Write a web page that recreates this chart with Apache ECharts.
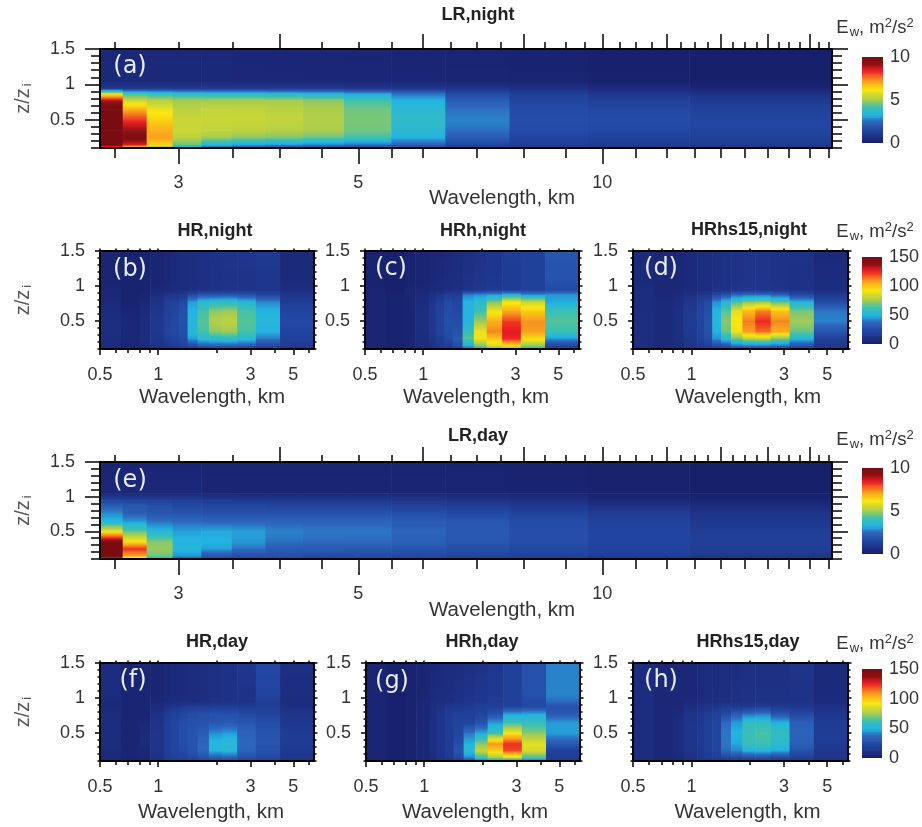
<!DOCTYPE html>
<html><head><meta charset="utf-8">
<style>html,body{margin:0;padding:0;background:#fff}#c{width:922px;height:827px;filter:blur(0.45px)}</style>
<script src="https://cdn.jsdelivr.net/npm/echarts@6/dist/echarts.min.js"></script>
</head><body><div id="c"></div>
<script>
// ---------- data ----------
const zLevels = [0.1,0.15,0.25,0.35,0.5,0.65,0.78,0.88,0.95,1.05,1.5];
const lrEdges = [2.4,2.56,2.74,2.95,3.2,3.49,3.84,4.27,4.8,5.49,6.4,7.68,9.6,12.8,19.2];
const hrEdges = [0.5,0.64,0.8,0.91,1.07,1.16,1.28,1.42,1.6,1.83,2.13,2.56,3.2,4.27,6.4];
const lrNight = [
[6.5,10.5,10.5,10.5,10.5,10.5,8.8,5.5,1,.45,.4],[6,8.5,9.8,9.2,8.2,7,5.5,4,1,.45,.4],[4,6.5,7.2,7,6.5,6,5.2,3.8,1,.45,.4],
[2.5,4.5,5.3,5.5,5.5,5.3,5,3.6,1,.45,.4],[2,3.5,5,5.4,5.5,5.4,5,3.5,1,.45,.4],[1.8,3.2,4.8,5.3,5.5,5.4,5,3.5,1,.4,.38],
[1.7,3,4.7,5.2,5.4,5.3,5,3.4,1,.4,.36],[1.6,2.8,4.5,5.1,5.2,5.1,4.8,3.3,1,.4,.34],[1.5,2.6,4.2,4.6,4.7,4.6,4.2,3,.9,.4,.32],
[1.3,2.3,3.3,3.6,3.8,3.6,3.3,2.5,.9,.38,.3],[1,1.5,2.2,2.6,2.8,2.6,2.2,1.6,.8,.35,.28],[.9,1.2,1.5,1.7,1.8,1.7,1.5,1.2,.7,.3,.25],
[.8,1.1,1.4,1.6,1.7,1.6,1.3,.9,.5,.22,.18],[.8,1.1,1.3,1.5,1.5,1.4,1.1,.7,.35,.16,.14]];
const lrDay = [
[7,10.5,10.5,9.8,6,3.4,2.8,2.2,1.5,.4,.35],[5.5,7,8.3,6.3,4.5,3,2.2,2,1.4,.4,.35],[3.5,4.6,4.9,4.8,3.5,2.6,2,1.8,1.3,.4,.35],
[2.2,3,3.4,3.4,3.1,2.5,1.9,1.6,1.2,.4,.35],[1.6,2,3.1,3.3,3.2,2.4,1.8,1.5,1.1,.35,.3],[1.4,1.8,2.6,3,3.1,2.4,1.8,1.5,1,.35,.3],
[1.4,1.8,2.2,2.6,2.8,2.4,1.8,1.4,1,.35,.3],[1.3,1.7,2.2,2.5,2.7,2.4,1.8,1.4,1,.35,.3],[1.3,1.7,2.1,2.5,2.7,2.4,1.8,1.4,1,.35,.3],
[1.2,1.6,2,2.3,2.4,2.2,1.7,1.3,.9,.35,.3],[1.1,1.5,1.8,2,2.1,2,1.6,1.2,.8,.32,.28],[1,1.4,1.6,1.8,1.8,1.7,1.4,1,.7,.28,.25],
[.9,1.2,1.4,1.5,1.5,1.4,1.1,.7,.45,.22,.2],[.8,1,1.2,1.3,1.2,1,.8,.5,.32,.16,.15]];
const hrNight = [
[6,8,9,9,9,8,7,6,6,5,5],[4,5,6,6,6,5,4,4,4,4,4],[6,7,8,8,8,7,6,5,4,4,4],[10,12,14,15,15,14,12,9,6,5,5],
[12,15,19,21,21,20,18,12,7,6,6],[13,18,22,24,24,23,20,13,8,7,7],[13,20,25,27,28,27,24,15,9,8,8],
[14,24,46,52,52,50,46,24,10,9,9],[15,32,54,64,66,64,54,30,11,10,10],[16,34,56,72,78,72,56,30,12,11,12],
[16,34,58,74,80,74,57,30,13,12,13],[15,32,54,64,66,64,52,28,13,12,14],[14,24,40,50,52,50,42,22,13,14,16],[12,16,20,22,24,22,18,13,9,7,7]];
const hrhNight = [
[5,5,5,5,5,5,5,5,5,4,4],[4,4,4,4,4,4,4,4,3,3,3],[5,5,5,5,5,5,5,5,5,4,4],[7,8,8,9,9,9,8,7,6,5,5],
[10,11,13,14,14,14,13,10,7,6,6],[12,14,18,20,21,20,19,13,8,7,6],[14,18,24,26,27,26,25,18,9,8,7],
[18,26,32,28,26,24,22,18,10,9,8],[34,48,66,60,50,50,50,42,13,11,10],[45,70,90,90,74,62,55,44,15,13,12],
[60,85,100,112,105,90,70,46,17,15,14],[60,95,125,128,122,105,90,52,18,17,18],[52,72,95,108,110,98,82,44,20,20,20],[18,22,45,62,66,62,48,45,24,28,30]];
const hrs15Night = [
[8,9,9,9,9,9,8,8,8,7,7],[6,7,7,7,7,7,7,6,6,6,6],[7,8,10,10,10,10,9,7,6,6,6],[10,13,15,16,16,16,14,10,7,7,7],
[12,16,20,22,22,22,20,13,8,8,8],[14,20,25,28,28,27,25,15,9,9,9],[16,25,44,50,52,50,44,22,11,10,10],
[18,30,55,68,72,66,52,28,12,11,11],[20,38,68,90,94,88,62,36,13,12,12],[22,40,78,108,113,103,70,38,14,13,13],
[22,40,80,115,125,112,72,38,14,13,13],[20,38,70,105,112,100,64,34,13,12,12],[18,28,52,68,75,70,50,24,12,11,12],[12,15,20,30,42,40,25,15,9,8,7]];
const hrDay = [
[6,7,7,8,8,8,8,7,7,8,8],[4,5,5,5,5,5,5,5,5,5,5],[5,6,6,7,7,6,5,5,5,5,5],[10,11,13,13,13,12,11,8,6,5,5],
[14,17,19,19,19,19,17,11,7,6,6],[16,20,23,23,23,23,20,14,8,7,7],[17,22,25,26,26,26,23,16,9,7,7],
[19,24,29,29,29,28,25,18,9,8,8],[21,28,37,37,33,29,26,18,10,9,9],[22,32,50,52,44,31,27,19,11,10,10],
[22,34,52,54,46,32,27,19,12,11,12],[20,27,36,38,36,30,25,17,12,12,14],[18,24,28,30,29,26,22,18,18,22,24],[11,14,16,17,17,15,13,10,8,9,10]];
const hrhDay = [
[5,5,5,5,5,5,5,5,5,5,5],[3,3,3,3,3,3,3,3,3,3,3],[4,4,4,4,4,4,4,4,4,4,4],[6,6,6,6,6,6,6,6,6,5,5],
[8,9,10,10,10,10,9,9,8,7,6],[10,12,13,13,13,13,13,11,9,8,7],[12,16,18,18,18,18,18,14,10,9,8],
[15,24,30,26,22,22,20,16,11,10,9],[24,42,55,50,40,22,20,16,13,12,10],[28,60,82,72,48,28,22,18,15,14,12],
[32,75,98,110,62,46,28,20,17,16,15],[32,85,120,124,92,62,46,22,19,20,20],[28,62,85,88,72,60,48,25,24,28,28],[16,18,20,32,46,46,32,28,38,42,42]];
const hrs15Day = [
[8,8,8,8,8,8,8,8,8,8,8],[6,6,6,6,6,6,6,6,6,6,6],[7,7,8,8,8,8,7,6,6,6,6],[10,11,13,13,13,13,12,9,7,6,6],
[12,14,16,16,16,16,15,11,8,7,7],[13,16,19,19,19,19,17,13,9,8,8],[14,18,22,22,22,22,20,14,9,9,8],
[15,22,38,40,40,38,24,16,10,9,9],[15,24,42,48,50,46,32,16,11,10,9],[16,26,50,60,62,58,38,17,12,11,10],
[16,26,52,62,65,58,40,18,12,11,10],[15,24,48,55,58,50,30,16,12,11,10],[14,20,28,34,36,34,24,15,12,12,13],[10,13,15,17,18,17,14,11,8,7,7]];
const barLevelsLR = [0,1,2,3,4,5,6,7,8,9,10];
const barLevelsHR = [0,15,30,45,60,75,90,105,120,135,150];
const lrMajorBottom = [3,5,10];
const lrMinorBottom = [2.5,3.5,4,4.5,5.5,6,7,8,9,11,12,13,14,15,16,17,18,19];
const lrMajorTop = [4,6,8,10,12,14,16,18];
const lrMinorTop = [2.5,3,3.5,4.5,5,5.5,6.5,7,7.5,8.5,9,9.5,10.5,11,11.5,12.5,13,13.5,14.5,15,15.5,16.5,17,17.5,18.5,19];
const hrMajorBottom = [0.5,1,3,5];
const hrMinorBottom = [0.6,0.7,0.8,0.9,2,4,6];
const hrTop = [0.5,0.6,0.7,0.8,0.9,1,2,3,4,5,6];
const zMajor = [0.5,1,1.5];
const zMinor = [0.1,0.2,0.3,0.4,0.6,0.7,0.8,0.9,1.1,1.2,1.3,1.4];

// ---------- colour scale ----------
const cmapPos = [0,.05,.15,.25,.33,.42,.5,.62,.72,.84,.92,1];
const cmapCol = ['#151b62','#1c2b7d','#2145a0','#2d66bc','#22b4e2','#3cc0b0','#a5cb52','#fbe60f','#f9a01e','#ec1f24','#8f1014','#780c10'];
const rgb = cmapCol.map(h=>[1,3,5].map(i=>parseInt(h.substr(i,2),16)));
function cmap(t){
  t=Math.max(0,Math.min(1,t));
  let i=0; while(i<cmapPos.length-2 && t>cmapPos[i+1]) i++;
  const f=(t-cmapPos[i])/(cmapPos[i+1]-cmapPos[i]);
  const c=rgb[i].map((v,k)=>Math.round(v+(rgb[i+1][k]-v)*f));
  return `rgb(${c[0]},${c[1]},${c[2]})`;
}
function makeRender(vmax){
  return function(params,api){
    const a=api.coord([api.value(0),api.value(3)]), b=api.coord([api.value(1),api.value(2)]);
    const vLow=api.value(4), vHigh=api.value(5), stops=[];
    for(let s=0;s<=6;s++){const f=s/6;stops.push({offset:f,color:cmap((vHigh+(vLow-vHigh)*f)/vmax)});}
    return {type:'rect',silent:true,
      shape:{x:a[0],y:a[1],width:b[0]-a[0]+0.6,height:b[1]-a[1]+0.6},
      style:{fill:new echarts.graphic.LinearGradient(0,0,0,1,stops)}};
  };
}
function cells(edges,matrix){
  const out=[];
  matrix.forEach((col,i)=>{for(let k=0;k<zLevels.length-1;k++)
    out.push([edges[i],edges[i+1],zLevels[k],zLevels[k+1],col[k],col[k+1]]);});
  return out;
}

// ---------- layout ----------
const TXT='#333';
const FONT='"Liberation Sans",Arial,sans-serif';
const panels=[
 {kind:'LR',m:lrNight,title:'LR,night',tag:'(a)',x:100,y:49,w:732,h:99,tx:478,ty:16,tagx:130,tagy:67,nx:502,ngap:40,yname:true},
 {kind:'HR',m:hrNight,title:'HR,night',tag:'(b)',x:100,y:251,w:214,h:98,tx:215,ty:232,tagx:130,tagy:270,nx:212,ngap:38,yname:true},
 {kind:'HR',m:hrhNight,title:'HRh,night',tag:'(c)',x:365,y:251,w:214,h:98,tx:483,ty:232,tagx:391,tagy:269,nx:476,ngap:38},
 {kind:'HR',m:hrs15Night,title:'HRhs15,night',tag:'(d)',x:633,y:251,w:215,h:98,tx:749,ty:231,tagx:661,tagy:269,nx:748,ngap:38},
 {kind:'LR',m:lrDay,title:'LR,day',tag:'(e)',x:100,y:462,w:732,h:97,tx:478,ty:437,tagx:130,tagy:481,nx:502,ngap:41,yname:true},
 {kind:'HR',m:hrDay,title:'HR,day',tag:'(f)',x:100,y:663,w:214,h:98,tx:217,ty:643,tagx:133,tagy:681,nx:211,ngap:41,yname:true},
 {kind:'HR',m:hrhDay,title:'HRh,day',tag:'(g)',x:366,y:663,w:214,h:98,tx:482,ty:643,tagx:392,tagy:682,nx:475,ngap:41},
 {kind:'HR',m:hrs15Day,title:'HRhs15,day',tag:'(h)',x:633,y:663,w:215,h:98,tx:748,ty:643,tagx:661,tagy:681,nx:747.5,ngap:41}
];
const bars=[
 {levels:barLevelsLR,top:57,h:86,ty:28,step:5},
 {levels:barLevelsHR,top:257,h:87,ty:232,step:50},
 {levels:barLevelsLR,top:468,h:86,ty:440,step:5},
 {levels:barLevelsHR,top:669,h:89,ty:644,step:50}
];

const grid=[],xAxis=[],yAxis=[],series=[],title=[],graphic=[];
const line={show:true,onZero:false,lineStyle:{color:'#000',width:2}};
function tick(len,w){return {length:len,lineStyle:{color:'#111',width:w||1.6}};}

panels.forEach(p=>{
  const gi=grid.length, lr=p.kind==='LR';
  grid.push({left:p.x,top:p.y,width:p.w,height:p.h,containLabel:false});
  const lo=lr?2.4:0.5, hi=lr?19.2:6.4;
  const xBase={type:'log',gridIndex:gi,min:lo,max:hi,logBase:10,splitLine:{show:false},minorTick:{show:false},z:5,axisLine:line};
  const bMajor=lr?lrMajorBottom:hrMajorBottom, bMinor=lr?lrMinorBottom:hrMinorBottom;
  const xi=xAxis.length;
  xAxis.push(Object.assign({},xBase,{position:'bottom',
    name:'Wavelength, km',nameLocation:'middle',nameGap:p.ngap,nameMoveOverlap:false,
    nameTextStyle:{fontFamily:FONT,fontSize:20.5,color:TXT,padding:[0,0,0,Math.max(0,2*(p.nx-(p.x+p.w/2)))]},
    axisTick:Object.assign(tick(lr?16:6),{customValues:bMajor}),
    axisLabel:{customValues:bMajor,margin:lr?26:17,fontFamily:FONT,fontSize:18,color:TXT,showMinLabel:true,showMaxLabel:true,hideOverlap:false,formatter:v=>String(+(+v).toFixed(2))}}));
  xAxis.push(Object.assign({},xBase,{position:'bottom',axisTick:Object.assign(tick(lr?10:4),{customValues:bMinor}),axisLabel:{show:false}}));
  xAxis.push(Object.assign({},xBase,{position:'top',axisTick:Object.assign(tick(lr?15:2.5),{customValues:lr?lrMajorTop:hrTop}),axisLabel:{show:false}}));
  if(lr) xAxis.push(Object.assign({},xBase,{position:'top',axisTick:Object.assign(tick(7),{customValues:lrMinorTop}),axisLabel:{show:false}}));
  const yBase={type:'value',gridIndex:gi,min:0.1,max:1.5,splitLine:{show:false},z:5,axisLine:line};
  const yi=yAxis.length;
  yAxis.push(Object.assign({},yBase,{position:'left',
    name:p.yname?'{b|z/z}{s|i}':'',nameLocation:'middle',nameGap:66,nameRotate:90,nameMoveOverlap:false,
    nameTextStyle:{rich:{b:{fontFamily:FONT,fontSize:20,color:'#555',lineHeight:22},s:{fontFamily:FONT,fontSize:13,color:'#555',lineHeight:22,verticalAlign:'bottom',padding:[10,0,0,2]}}},
    axisTick:Object.assign(tick(lr?15:5),{customValues:zMajor}),
    axisLabel:{customValues:zMajor,margin:lr?25:15,fontFamily:FONT,fontSize:18,color:TXT,hideOverlap:false,showMinLabel:true,showMaxLabel:true,formatter:v=>String(+(+v).toFixed(1))}}));
  yAxis.push(Object.assign({},yBase,{position:'left',axisTick:Object.assign(tick(lr?9:2.5),{customValues:zMinor}),axisLabel:{show:false}}));
  yAxis.push(Object.assign({},yBase,{position:'right',axisTick:Object.assign(tick(lr?16:3.5),{customValues:zMajor}),axisLabel:{show:false}}));
  yAxis.push(Object.assign({},yBase,{position:'right',axisTick:Object.assign(tick(lr?10:2.5),{customValues:zMinor}),axisLabel:{show:false}}));
  series.push({type:'custom',name:p.title,coordinateSystem:'cartesian2d',xAxisIndex:xi,yAxisIndex:yi,clip:true,z:2,silent:true,
    renderItem:makeRender(lr?10:150),encode:{x:[0,1],y:[2,3]},data:cells(lr?lrEdges:hrEdges,p.m)});
  title.push({text:p.title,left:p.tx,top:p.ty-10,padding:0,textAlign:'center',textStyle:{fontFamily:FONT,fontWeight:'bold',fontSize:18,color:'#222'}});
  graphic.push({type:'text',z:20,x:p.tagx,y:p.tagy,style:{text:p.tag,fill:'#e6ecf7',font:'24px "DejaVu Sans"',textAlign:'center',textVerticalAlign:'middle'}});
});

bars.forEach(b=>{
  const gi=grid.length, vmax=b.levels[b.levels.length-1];
  grid.push({left:862,top:b.top,width:21,height:b.h});
  const xi=xAxis.length, yi=yAxis.length;
  xAxis.push({type:'value',gridIndex:gi,min:0,max:1,show:false});
  yAxis.push({type:'value',gridIndex:gi,min:0,max:vmax,interval:b.step,position:'right',splitLine:{show:false},axisLine:{show:false},axisTick:{show:false},
    axisLabel:{margin:7,fontFamily:FONT,fontSize:18,color:TXT,showMinLabel:true,showMaxLabel:true}});
  const d=[]; for(let i=0;i<b.levels.length-1;i++) d.push([0,1,b.levels[i],b.levels[i+1],b.levels[i],b.levels[i+1]]);
  series.push({type:'custom',coordinateSystem:'cartesian2d',xAxisIndex:xi,yAxisIndex:yi,clip:true,silent:true,renderItem:makeRender(vmax),encode:{x:[0,1],y:[2,3]},data:d});
  title.push({text:'E{s|w}{b|, m}{u|2}{b|/s}{u|2}',left:875,top:b.ty-11,padding:0,textAlign:'center',
    textStyle:{fontFamily:FONT,fontSize:18.5,fontWeight:'normal',color:TXT,lineHeight:22,
      rich:{b:{fontFamily:FONT,fontSize:18.5,color:TXT,lineHeight:22},
            s:{fontFamily:FONT,fontSize:13,color:TXT,lineHeight:22,verticalAlign:'bottom',padding:[12,0,0,1]},
            u:{fontFamily:FONT,fontSize:13,color:TXT,lineHeight:22,verticalAlign:'top',padding:[0,0,8,0]}}}});
});

const chart=echarts.init(document.getElementById('c'),null,{renderer:'canvas',width:922,height:827});
chart.setOption({animation:false,backgroundColor:'#fff',tooltip:{show:false},grid,xAxis,yAxis,series,title,graphic});
</script></body></html>
